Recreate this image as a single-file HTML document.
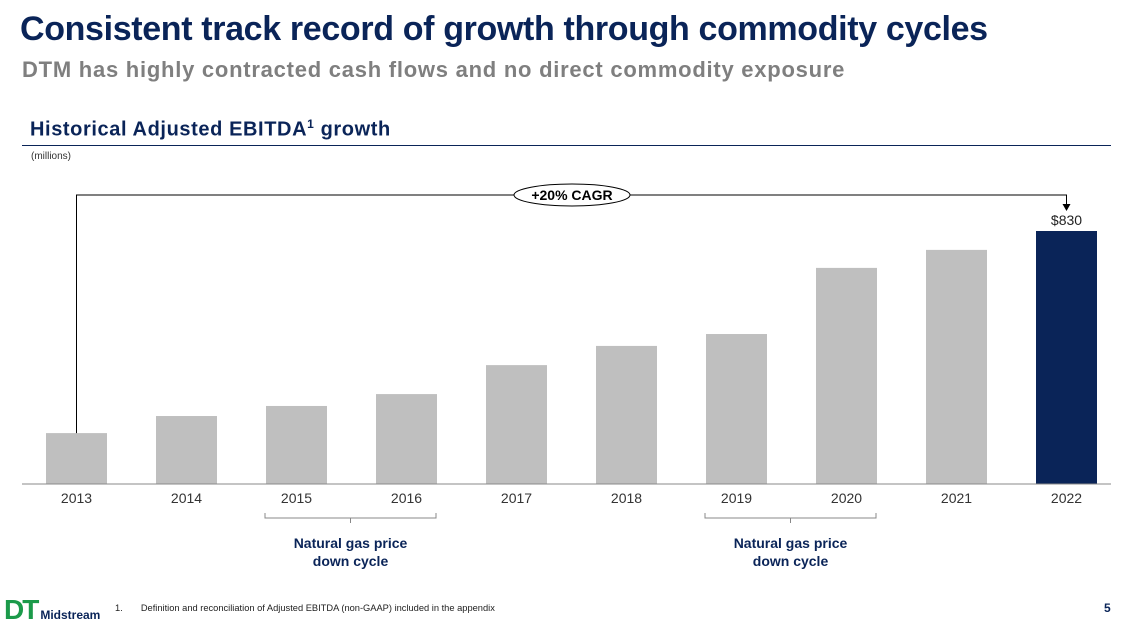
<!DOCTYPE html>
<html><head><meta charset="utf-8"><style>
body{margin:0;width:1129px;height:628px;background:#fff;overflow:hidden;font-family:"Liberation Sans",sans-serif;position:relative}
.t{position:absolute;white-space:nowrap}
</style></head><body>
<div class="t" style="left:20px;top:10px;font-size:34px;font-weight:bold;color:#0a2458;letter-spacing:-0.35px">Consistent track record of growth through commodity cycles</div>
<div class="t" style="left:22px;top:57px;font-size:22px;font-weight:bold;color:#7f7f7f;letter-spacing:0.75px">DTM has highly contracted cash flows and no direct commodity exposure</div>
<div class="t" style="left:30px;top:117px;font-size:20px;font-weight:bold;color:#0a2458;letter-spacing:0.6px">Historical Adjusted EBITDA<sup style="font-size:12px">1</sup> growth</div>
<div style="position:absolute;left:22px;top:145px;width:1089px;height:1px;background:#0a2458"></div>
<div class="t" style="left:31px;top:151px;font-size:10px;color:#333">(millions)</div>
<svg id="chart" width="1129" height="628" style="position:absolute;left:0;top:0"></svg>
<div class="t" style="left:4px;top:594px;font-size:28px;font-weight:900;color:#1b9a4a;letter-spacing:-2px">DT<span style="font-size:12px;color:#0a2458;letter-spacing:0;font-weight:bold;margin-left:3px">Midstream</span></div>
<div class="t" style="left:115px;top:603px;font-size:9.3px;color:#222">1.&nbsp;&nbsp;&nbsp;&nbsp;&nbsp;&nbsp;&nbsp;Definition and reconciliation of Adjusted EBITDA (non-GAAP) included in the appendix</div>
<div class="t" style="left:1104px;top:601px;font-size:12px;font-weight:bold;color:#0a2458">5</div>
<script>
const years=["2013","2014","2015","2016","2017","2018","2019","2020","2021","2022"];
const values=[167,223,256,295,390,453,492,709,768,830];
const cycles=[["2015","2016"],["2019","2020"]];
const svg=document.getElementById('chart');const NS="http://www.w3.org/2000/svg";
const base=484,maxV=830,maxH=253,x0=76.5,step=110,bw=61;
const y=v=>base-v/maxV*maxH;const xc=i=>x0+i*step;
function add(tag,attrs,txt){const e=document.createElementNS(NS,tag);for(const k in attrs)e.setAttribute(k,attrs[k]);if(txt)e.textContent=txt;svg.appendChild(e);return e;}
values.forEach((v,i)=>{
 const r=add('rect',{x:xc(i)-bw/2,y:y(v),width:bw,height:base-y(v),fill:i==values.length-1?'#0a2458':'#bfbfbf'});
 
 
 const t=add('text',{x:xc(i),y:503,'text-anchor':'middle','font-size':14,fill:'#333'},years[i]);
 
 
});
const ax=add('line',{x1:22,x2:1111,y1:base,y2:base,stroke:'#888','stroke-width':1});


const last=values.length-1;
const lbl=add('text',{x:xc(last),y:y(values[last])-6,'text-anchor':'middle','font-size':14,fill:'#222'},'$'+values[last]);


const cp=add('path',{d:`M${xc(0)} ${y(values[0])} V195 H${xc(last)} V${y(values[last])-26}`,fill:'none',stroke:'#000','stroke-width':1});


add('path',{d:`M${xc(last)-4} ${y(values[last])-27} L${xc(last)+4} ${y(values[last])-27} L${xc(last)} ${y(values[last])-20}Z`,fill:'#000'});
const el=add('ellipse',{cx:572,cy:195,rx:58,ry:11,fill:'#fff',stroke:'#000','stroke-width':1});


add('text',{x:572,y:200,'text-anchor':'middle','font-size':14,'font-weight':'bold',fill:'#000'},'+20% CAGR');
cycles.forEach((c,k)=>{
 const a=xc(years.indexOf(c[0]))-bw/2-1,b=xc(years.indexOf(c[1]))+bw/2-1,m=(a+b)/2;
 const br=add('path',{d:`M${a} 513 V518 H${b} V513 M${m} 518 V523`,fill:'none',stroke:'#888','stroke-width':1});
 
 
 add('text',{x:m,y:548,'text-anchor':'middle','font-size':14,'font-weight':'bold',fill:'#0a2458'},'Natural gas price');
 add('text',{x:m,y:566,'text-anchor':'middle','font-size':14,'font-weight':'bold',fill:'#0a2458'},'down cycle');
});
</script>
</body></html>
